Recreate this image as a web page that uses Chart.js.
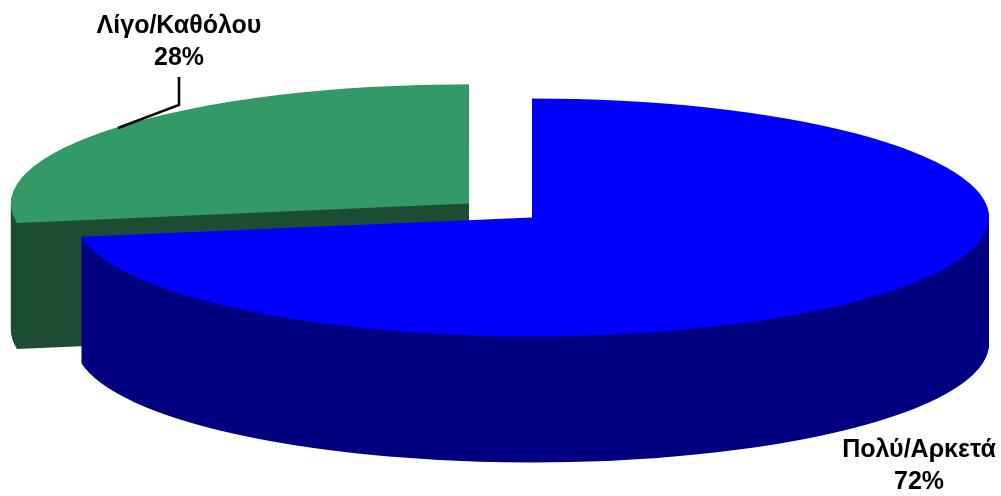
<!DOCTYPE html>
<html>
<head>
<meta charset="utf-8">
<title>Pie</title>
<script src="https://cdn.jsdelivr.net/npm/chart.js@4/dist/chart.umd.js"></script>
<style>
    html, body { margin: 0; padding: 0; background: #fff; }
    canvas { display: block; }
</style>
</head>
<body>
<canvas id="pie" width="1001" height="496"></canvas>
<script>
const categories = ['Πολύ/Αρκετά', 'Λίγο/Καθόλου'];
// labels are rounded to 72% and 28%, the slice edges sit closer to these
const values = [72.4, 27.6];
const topColors = ['#0000ff', '#339966'];
const sideColors = ['#000080', '#1d4e35'];

// how the flat pie is laid down on the page
const centerX = 532;
const centerY = 217.5;
const radius = 457;
const tilt = 119 / 457;
const depth = 126;

// slice-by-slice label placement, same order as categories
const labelX = [919, 179];
const labelY = [457, 33];

function percent(i) {
    const total = values.reduce((a, b) => a + b, 0);
    return Math.round(values[i] / total * 100) + '%';
}

// move the arc centre to the page centre and squash it, shifted down by dy
function layDown(ctx, arc, dy) {
    ctx.translate(centerX, centerY + dy);
    ctx.scale(1, tilt);
    ctx.translate(-arc.x, -arc.y);
}

const pie3d = {
    id: 'pie3d',
    beforeDatasetsDraw(chart) {
        const ctx = chart.ctx;
        const arcs = chart.getDatasetMeta(0).data;

        // back slice first, the blue one sits in front of it
        for (let i = arcs.length - 1; i >= 0; i--) {
            const arc = arcs[i];
            const opts = arc.options;

            // side wall: the same arc repeated downwards in the dark colour
            arc.options = {
                offset: opts.offset, spacing: 0, circular: true, borderAlign: 'center',
                borderWidth: 0, borderRadius: 0,
                backgroundColor: sideColors[i], borderColor: sideColors[i]
            };
            for (let dy = depth; dy > 0; dy--) {
                ctx.save();
                layDown(ctx, arc, dy);
                arc.draw(ctx);
                ctx.restore();
            }
            arc.options = opts;

            ctx.save();
            layDown(ctx, arc, 0);
            arc.draw(ctx);
            ctx.restore();
        }
        return false;
    },
    afterDraw(chart) {
        const ctx = chart.ctx;

        // leader line from the green rim up to its label
        ctx.save();
        ctx.strokeStyle = '#000';
        ctx.lineWidth = 2.5;
        ctx.beginPath();
        ctx.moveTo(118, 128);
        ctx.lineTo(labelX[1], 105);
        ctx.lineTo(labelX[1], 77);
        ctx.stroke();

        ctx.fillStyle = '#000';
        ctx.font = 'bold 25px "Liberation Sans", Arial, sans-serif';
        ctx.textAlign = 'center';
        ctx.textBaseline = 'alphabetic';
        categories.forEach((name, i) => {
            ctx.fillText(name, labelX[i], labelY[i]);
            ctx.fillText(percent(i), labelX[i], labelY[i] + 32);
        });
        ctx.restore();
    }
};

new Chart(document.getElementById('pie'), {
    type: 'pie',
    data: {
        labels: categories,
        datasets: [{
            data: values,
            backgroundColor: topColors,
            borderWidth: 0,
            offset: [0, 330.6],
            radius: radius,
            clip: false
        }]
    },
    options: {
        responsive: false,
        animation: false,
        layout: { padding: 0 },
        events: [],
        plugins: {
            legend: { display: false },
            tooltip: { enabled: false }
        }
    },
    plugins: [pie3d]
});
</script>
</body>
</html>
